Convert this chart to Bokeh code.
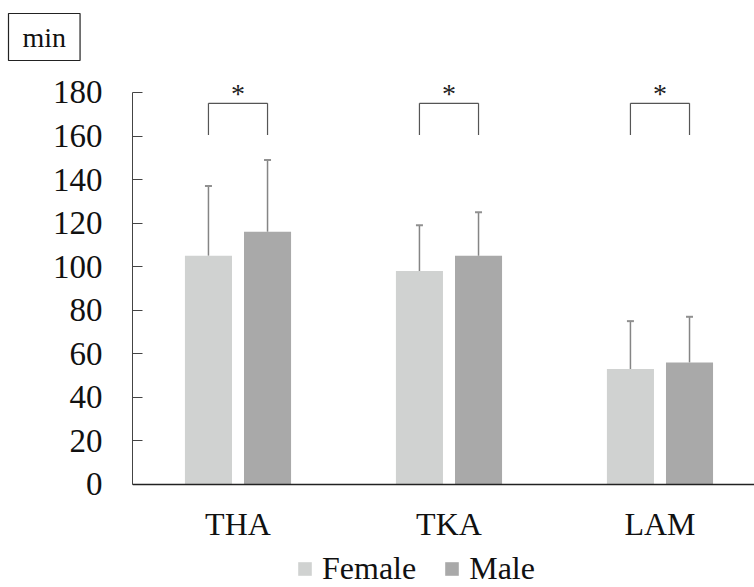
from bokeh.plotting import figure
from bokeh.models import (ColumnDataSource, Range1d, FixedTicker, Whisker, TeeHead,
                          Legend, LegendItem, Title, Span)
from bokeh.core.properties import value
from bokeh.embed import file_html
from bokeh.resources import INLINE

categories = ["THA", "TKA", "LAM"]
female_mean = [105, 98, 53]
female_sd = [32, 21, 22]
male_mean = [116, 105, 56]
male_sd = [33, 20, 21]
sig_low = [160.5, 160.5, 160.5]
sig_high = [175, 175, 175]
sig_text = ["*", "*", "*"]

FONT = "Liberation Serif"
idx = list(range(len(categories)))
off = 0.14
bw = 0.223

TOP = 72  # px above frame
p = figure(width=754, height=587, output_backend="svg", toolbar_location=None,
           x_range=Range1d(-0.5, 2.448), y_range=Range1d(-47.3, (484 - TOP) / 2.178),
           min_border_left=132, min_border_right=0, min_border_top=TOP,
           min_border_bottom=0)
p.outline_line_color = None
p.xgrid.visible = False
p.ygrid.visible = False
p.xaxis.visible = False

fx = [i - off for i in idx]
mx = [i + off for i in idx]
fsrc = ColumnDataSource(dict(x=fx, top=female_mean,
                             up=[m + s for m, s in zip(female_mean, female_sd)]))
msrc = ColumnDataSource(dict(x=mx, top=male_mean,
                             up=[m + s for m, s in zip(male_mean, male_sd)]))

rf = p.vbar(x="x", top="top", width=bw, source=fsrc, fill_color="#d0d2d1", line_color=None)
rm = p.vbar(x="x", top="top", width=bw, source=msrc, fill_color="#a9a9a9", line_color=None)

for src in (fsrc, msrc):
    w = Whisker(base="x", lower="top", upper="up", source=src, dimension="height",
                line_color="#858585", line_width=1.5, lower_head=None,
                upper_head=TeeHead(size=7, line_color="#909090", line_width=2))
    p.add_layout(w)

# x axis line (baseline at 0) and category labels
p.add_layout(Span(location=0, dimension="width", line_color="#222222", line_width=1.5))
p.text(x=idx, y=[0] * len(idx), text=categories, y_offset=40, text_align="center",
       text_baseline="middle", text_font=value(FONT), text_font_size="32px",
       text_color="#111111")

# significance brackets
bx0, bx1, by0, by1 = [], [], [], []
for i in idx:
    bx0 += [fx[i], fx[i], mx[i]]
    bx1 += [fx[i], mx[i], mx[i]]
    by0 += [sig_low[i], sig_high[i], sig_low[i]]
    by1 += [sig_high[i], sig_high[i], sig_high[i]]
p.segment(x0=bx0, y0=by0, x1=bx1, y1=by1, line_color="#555555", line_width=1.2)
p.text(x=idx, y=sig_high, text=sig_text, y_offset=-10, text_align="center",
       text_baseline="middle", text_font=value(FONT), text_font_size="28px",
       text_color="#222222")

# y axis
p.yaxis.ticker = FixedTicker(ticks=list(range(0, 181, 20)))
p.yaxis.bounds = (0, 180)
p.yaxis.major_tick_in = 10
p.yaxis.major_tick_out = 0
p.yaxis.minor_tick_line_color = None
p.yaxis.major_label_standoff = 30
p.yaxis.major_label_text_font = FONT
p.yaxis.major_label_text_font_size = "33px"
p.yaxis.major_label_text_color = "#111111"
p.yaxis.axis_line_color = "#444444"
p.yaxis.major_tick_line_color = "#444444"

legend = Legend(items=[LegendItem(label="Female", renderers=[rf]),
                       LegendItem(label="Male", renderers=[rm])],
                orientation="horizontal", location=(164, 0),
                border_line_color=None, background_fill_alpha=0, padding=0, margin=0,
                spacing=27, label_standoff=9, glyph_width=17, glyph_height=17,
                label_text_font=FONT, label_text_font_size="32px",
                label_text_color="#111111")
p.add_layout(legend, "center")

unit = Title(text="min", align="left", offset=-124, standoff=22,
             vertical_align="middle",
             text_font=FONT, text_font_size="28px", text_font_style="normal",
             text_color="#111111", border_line_color="#222222", border_line_width=1.2,
             background_fill_color="white",
             padding=dict(left=14, right=14, top=8, bottom=8))
p.add_layout(unit, "above")

open("out.html", "w").write(file_html(p, INLINE))
